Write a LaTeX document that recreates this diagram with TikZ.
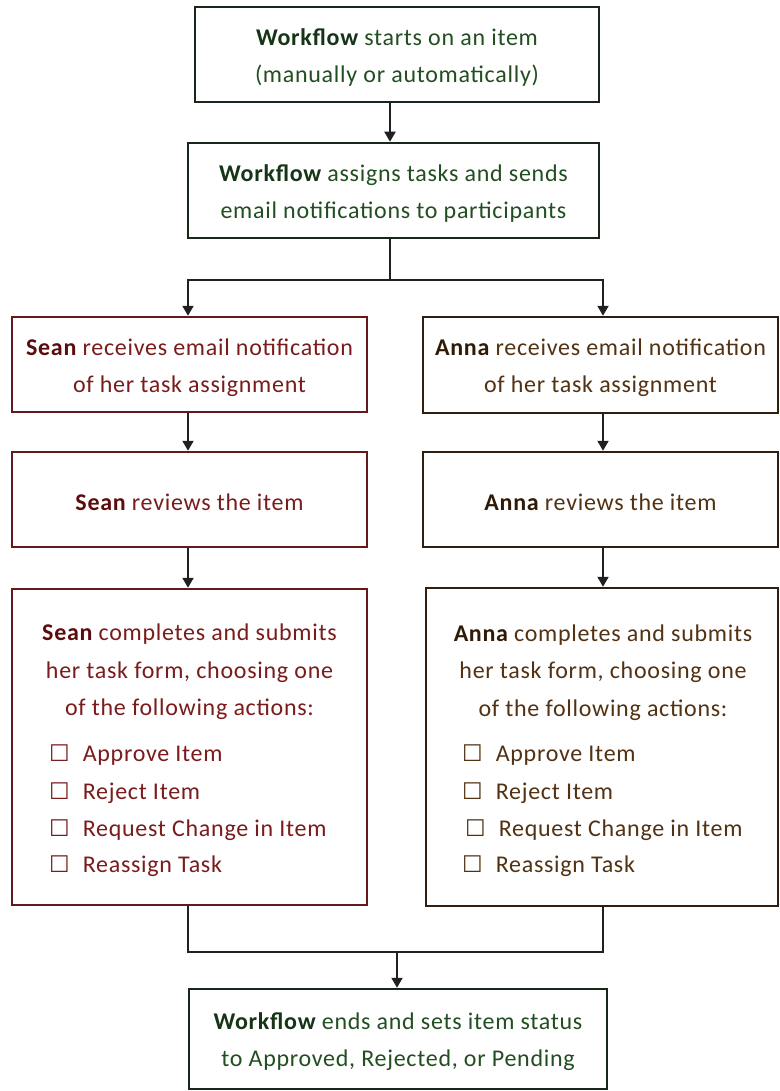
\documentclass[tikz,border=0pt]{standalone}
\usepackage{fontspec}
\setmainfont{Carlito}[LetterSpace=3]
\newfontfamily\dejavu{DejaVu Sans}
\usetikzlibrary{arrows.meta,calc}
\definecolor{wtext}{RGB}{34,78,34}
\definecolor{wbold}{RGB}{22,52,22}
\definecolor{wline}{RGB}{25,38,25}
\definecolor{stext}{RGB}{122,28,28}
\definecolor{sbold}{RGB}{92,12,12}
\definecolor{sline}{RGB}{98,26,26}
\definecolor{atext}{RGB}{82,50,18}
\definecolor{abold}{RGB}{48,26,6}
\definecolor{aline}{RGB}{48,30,14}
\definecolor{connc}{RGB}{32,32,32}
\newcommand{\cbox}{{\dejavu\fontsize{23}{24}\selectfont ☐}\hspace{13pt}}
\begin{document}
\begin{tikzpicture}[x=1pt,y=-1pt,
  box/.style={draw, line width=2.5pt, inner sep=0pt, fill=white},
  wbox/.style={box, draw=wline},
  sbox/.style={box, draw=sline},
  abox/.style={box, draw=aline},
  btxt/.style={inner sep=0pt, align=center, yshift=-3pt, font=\fontsize{24}{37}\selectfont},
  conn/.style={draw=connc, line width=2pt},
  arr/.style={conn, -{Triangle[length=10pt,width=11pt]}},
  hdr/.style={inner sep=0pt, align=center, font=\fontsize{24}{37.5}\selectfont},
  itm/.style={inner sep=0pt, anchor=west, font=\fontsize{24}{26}\selectfont}]
\useasboundingbox (0,0) rectangle (779,1091);
\fill[white] (0,0) rectangle (779,1091);

% Workflow boxes
\node[wbox, minimum width=404pt, minimum height=95pt] (w1) at (397,54.5) {};
\node[btxt, text=wtext] (w1t) at (w1.center)
  {{\bfseries\color{wbold}Workflow} starts on an item\\(manually or automatically)};
\node[wbox, minimum width=411pt, minimum height=95pt] (w2) at (393.5,190.5) {};
\node[btxt, text=wtext] (w2t) at (w2.center)
  {{\bfseries\color{wbold}Workflow} assigns tasks and sends\\email notifications to participants};

% Sean column
\node[sbox, minimum width=355pt, minimum height=95pt] (s1) at (189.5,364.5) {};
\node[btxt, text=stext] (s1t) at (s1.center)
  {{\bfseries\color{sbold}Sean} receives email notification\\of her task assignment};
\node[sbox, minimum width=355pt, minimum height=95pt] (s2) at (189.5,499.5) {};
\node[btxt, text=stext] (s2t) at (s2.center)
  {{\bfseries\color{sbold}Sean} reviews the item};
\node[sbox, minimum width=355pt, minimum height=316pt] (s3) at (189.5,747) {};
\node[hdr, text=stext] (s3h) at (189.5,672)
  {{\bfseries\color{sbold}Sean} completes and submits\\her task form, choosing one\\of the following actions:};
\node[itm, text=stext] (s3a) at (49,755) {\cbox Approve Item};
\node[itm, text=stext] (s3b) at (49,793) {\cbox Reject Item};
\node[itm, text=stext] (s3c) at (49,830) {\cbox Request Change in Item};
\node[itm, text=stext] (s3d) at (49,866) {\cbox Reassign Task};

% Anna column
\node[abox, minimum width=355pt, minimum height=96pt] (a1) at (600.5,365) {};
\node[btxt, text=atext] (a1t) at (a1.center)
  {{\bfseries\color{abold}Anna} receives email notification\\of her task assignment};
\node[abox, minimum width=355pt, minimum height=95pt] (a2) at (600.5,499.5) {};
\node[btxt, text=atext] (a2t) at (a2.center)
  {{\bfseries\color{abold}Anna} reviews the item};
\node[abox, minimum width=352pt, minimum height=318pt] (a3) at (602,747) {};
\node[hdr, text=atext] (a3h) at (603,672.5)
  {{\bfseries\color{abold}Anna} completes and submits\\her task form, choosing one\\of the following actions:};
\node[itm, text=atext] (a3a) at (462,755) {\cbox Approve Item};
\node[itm, text=atext] (a3b) at (462,793) {\cbox Reject Item};
\node[itm, text=atext] (a3c) at (465,830) {\cbox Request Change in Item};
\node[itm, text=atext] (a3d) at (462,866) {\cbox Reassign Task};

% End box
\node[wbox, minimum width=418pt, minimum height=100pt] (e) at (398,1039) {};
\node[btxt, text=wtext] (et) at (e.center)
  {{\bfseries\color{wbold}Workflow} ends and sets item status\\to Approved, Rejected, or Pending};

% Connectors
\coordinate (c1) at (390,0);
\coordinate (sp) at (390,280);
\coordinate (m) at (397,952);
\coordinate (ac) at (603,0);
\coordinate (sc) at (188,0);
\draw[arr] (w1.south -| c1) -- (w2.north -| c1);
\draw[conn] (w2.south -| sp) -- (sp);
\draw[arr] (sp) -| (s1.north -| sc);
\draw[arr] (sp) -| (a1.north -| ac);
\draw[arr] (s1.south -| sc) -- (s2.north -| sc);
\draw[arr] (a1.south -| ac) -- (a2.north -| ac);
\draw[arr] (s2.south -| sc) -- (s3.north -| sc);
\draw[arr] (a2.south -| ac) -- (a3.north -| ac);
\draw[conn] (s3.south -| sc) |- (m) -| (a3.south -| ac);
\draw[arr] (m) -- (e.north -| m);
\end{tikzpicture}
\end{document}
